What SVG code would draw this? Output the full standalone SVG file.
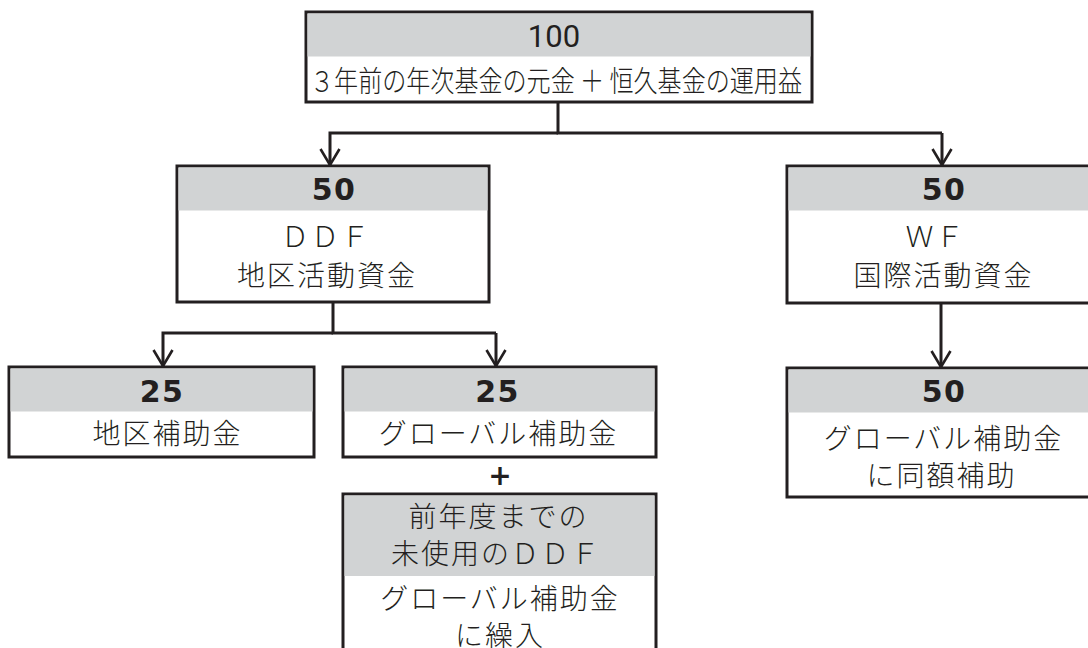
<svg xmlns="http://www.w3.org/2000/svg" width="1088" height="648" viewBox="0 0 1088 648">
<style>
.box{fill:#ffffff;stroke:#231f20;stroke-width:3}
.band{fill:#d1d3d4}
.num{font-family:"DejaVu Sans","Liberation Sans",sans-serif;font-weight:bold;font-size:30px;fill:#231f20;text-anchor:middle;letter-spacing:1.5px}
.num100{font-family:Roboto,"Liberation Sans",sans-serif;font-weight:400;font-size:31px;fill:#231f20;text-anchor:middle}
.jp{font-family:"Noto Sans CJK JP","Noto Sans",sans-serif;font-weight:300;font-size:28px;fill:#231f20;text-anchor:middle;letter-spacing:2px}
.jptop{font-family:"Noto Sans CJK JP","Noto Sans",sans-serif;font-weight:300;font-size:29px;fill:#231f20;text-anchor:middle}
.plus{font-family:"DejaVu Sans","Liberation Sans",sans-serif;font-weight:bold;font-size:28px;fill:#231f20;text-anchor:middle}
.conn{fill:none;stroke:#231f20;stroke-width:3}
</style>
<defs>
<marker id="arr" markerUnits="userSpaceOnUse" markerWidth="24" markerHeight="24" viewBox="-20 -12 24 24" refX="0" refY="0" orient="auto">
<path d="M-16,-9.5 L0,0 L-16,9.5" fill="none" stroke="#231f20" stroke-width="2.6"/>
</marker>
</defs>
<rect width="1088" height="648" fill="#ffffff"/>

<g id="connectors">
<path class="conn" d="M558,102 V133 H942"/>
<path class="conn" d="M558,133 H330 V165" marker-end="url(#arr)"/>
<path class="conn" d="M942,133 V165" marker-end="url(#arr)"/>
<path class="conn" d="M333,302 V333 H496"/>
<path class="conn" d="M333,333 H163 V366" marker-end="url(#arr)"/>
<path class="conn" d="M496,333 V366" marker-end="url(#arr)"/>
<path class="conn" d="M941,303 V367" marker-end="url(#arr)"/>
</g>

<g id="node-top">
<rect class="box" x="306" y="12" width="506" height="90"/>
<rect class="band" x="307.5" y="13.5" width="503" height="43"/>
<text class="num100" x="554" y="47">100</text>
<text class="jptop" x="556" y="91.5" textLength="492" lengthAdjust="spacingAndGlyphs">３年前の年次基金の元金 ＋ 恒久基金の運用益</text>
</g>

<g id="node-ddf">
<rect class="box" x="177" y="166" width="312" height="136"/>
<rect class="band" x="178.5" y="167.5" width="309" height="43"/>
<text class="num" x="334" y="200">50</text>
<text class="jp" x="326" y="247">ＤＤＦ</text>
<text class="jp" x="327" y="286">地区活動資金</text>
</g>

<g id="node-wf">
<rect class="box" x="787" y="166" width="310" height="137"/>
<rect class="band" x="788.5" y="167.5" width="307" height="43"/>
<text class="num" x="944" y="200">50</text>
<text class="jp" x="935.5" y="247">ＷＦ</text>
<text class="jp" x="943.5" y="286">国際活動資金</text>
</g>

<g id="node-district-grant">
<rect class="box" x="9" y="367" width="305" height="90"/>
<rect class="band" x="10.5" y="368.5" width="302" height="43"/>
<text class="num" x="162" y="402">25</text>
<text class="jp" x="167.5" y="444">地区補助金</text>
</g>

<g id="node-global-grant">
<rect class="box" x="343" y="367" width="313" height="90"/>
<rect class="band" x="344.5" y="368.5" width="310" height="43"/>
<text class="num" x="497.5" y="402">25</text>
<text class="jp" x="498.5" y="444">グローバル補助金</text>
</g>

<g id="plus">
<text class="plus" x="500" y="485">+</text>
</g>

<g id="node-unused-ddf">
<rect class="box" x="343" y="494" width="313" height="170"/>
<rect class="band" x="344.5" y="495.5" width="310" height="80.5"/>
<text class="jp" x="498.5" y="527">前年度までの</text>
<text class="jp" x="496" y="564">未使用のＤＤＦ</text>
<text class="jp" x="500" y="609">グローバル補助金</text>
<text class="jp" x="500" y="646">に繰入</text>
</g>

<g id="node-matching">
<rect class="box" x="787" y="368" width="310" height="129"/>
<rect class="band" x="788.5" y="369.5" width="307" height="43"/>
<text class="num" x="944" y="402">50</text>
<text class="jp" x="943.5" y="449">グローバル補助金</text>
<text class="jp" x="941.5" y="486">に同額補助</text>
</g>
</svg>
